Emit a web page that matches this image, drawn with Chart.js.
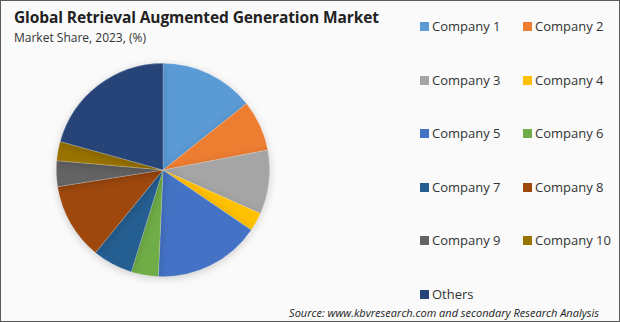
<!DOCTYPE html>
<html>
<head>
<meta charset="utf-8">
<script src="https://cdn.jsdelivr.net/npm/chart.js@4/dist/chart.umd.min.js"></script>
<style>
  html, body { margin: 0; padding: 0; background: #fff; }
  #frame {
    position: relative; width: 618px; height: 320px;
    border: 1px solid #5a5a5a; background: #fafafa;
    font-family: "Open Sans", sans-serif; color: #222;
    overflow: hidden;
  }
  #title { position: absolute; left: 13px; top: 5px; font-size: 15.5px; font-weight: 700; letter-spacing: -0.1px; }
  #subtitle { position: absolute; left: 13px; top: 28px; font-size: 12px; color: #333; }
  #pieBox { position: absolute; left: 47px; top: 54px; width: 230px; height: 230px; }
  #legend { position: absolute; left: 419px; top: 0; }
  .item { position: absolute; white-space: nowrap; font-size: 13px; color: #333; }
  .item span.sw { display: inline-block; width: 9px; height: 9px; margin-right: 3px; vertical-align: -0px; }
  #source { position: absolute; right: 20px; bottom: 1px; font-size: 11px; font-style: italic; color: #222; }
</style>
</head>
<body>
<div id="frame">
  <div id="title">Global Retrieval Augmented Generation Market</div>
  <div id="subtitle">Market Share, 2023, (%)</div>
  <div id="pieBox"><canvas id="pie" width="230" height="230"></canvas></div>
  <div id="legend"></div>
  <div id="source">Source: www.kbvresearch.com and secondary Research Analysis</div>
</div>
<script>
const labels = ['Company 1', 'Company 2', 'Company 3', 'Company 4', 'Company 5', 'Company 6',
                'Company 7', 'Company 8', 'Company 9', 'Company 10', 'Others'];
const shares = [14.3, 7.7, 9.7, 2.8, 16.2, 4.1, 6.1, 11.6, 3.9, 2.9, 20.7];
const colors = ['#5B9BD5', '#ED7D31', '#A5A5A5', '#FFC000', '#4472C4', '#70AD47',
                '#255E91', '#9E480E', '#636363', '#997300', '#264478'];

// two-column legend, same order as the slices
const legend = document.getElementById('legend');
labels.forEach((name, i) => {
  const el = document.createElement('div');
  el.className = 'item';
  el.style.left = (i % 2 === 0 ? 0 : 103) + 'px';
  el.style.top = (16 + Math.floor(i / 2) * 53.6) + 'px';
  el.innerHTML = '<span class="sw" style="background:' + colors[i] + '"></span>' + name;
  legend.appendChild(el);
});

// soft shadow behind the pie
const shadow = {
  id: 'shadow',
  beforeDatasetsDraw(chart) {
    const ctx = chart.ctx;
    ctx.save();
    ctx.shadowColor = 'rgba(0,0,0,0.18)';
    ctx.shadowBlur = 8;
    ctx.shadowOffsetY = 2;
  },
  afterDatasetsDraw(chart) { chart.ctx.restore(); }
};

new Chart(document.getElementById('pie'), {
  type: 'pie',
  data: {
    labels: labels,
    datasets: [{
      data: shares,
      backgroundColor: colors,
      borderColor: 'rgba(255,255,255,0.35)',
      borderWidth: 0.6
    }]
  },
  options: {
    responsive: false,
    animation: false,
    layout: { padding: 8 },
    plugins: { legend: { display: false }, tooltip: { enabled: false } }
  },
  plugins: [shadow]
});
</script>
</body>
</html>
